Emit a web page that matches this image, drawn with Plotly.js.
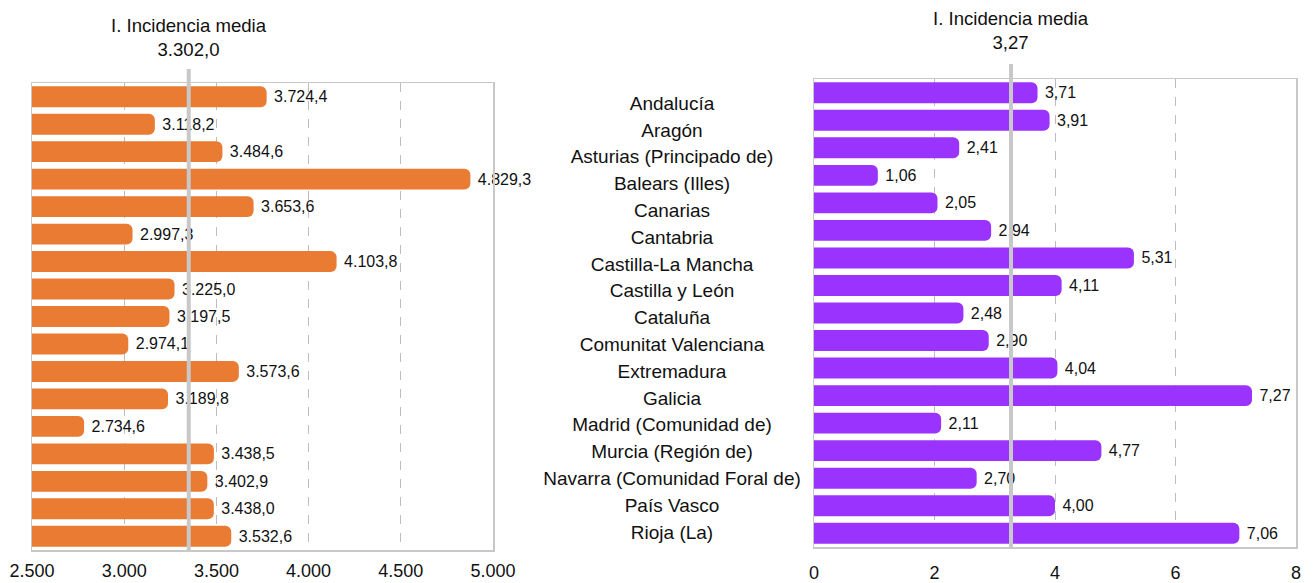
<!DOCTYPE html>
<html>
<head>
<meta charset="utf-8">
<script src="https://cdn.plot.ly/plotly-3.0.1.min.js"></script>
<style>html,body{margin:0;padding:0;background:#fff;}#chart{width:1314px;height:583px;}</style>
</head>
<body>
<div id="chart"></div>
<script>
const categories = [
  "Andalucía", "Aragón", "Asturias (Principado de)", "Balears (Illes)", "Canarias",
  "Cantabria", "Castilla-La Mancha", "Castilla y León", "Cataluña", "Comunitat Valenciana",
  "Extremadura", "Galicia", "Madrid (Comunidad de)", "Murcia (Región de)",
  "Navarra (Comunidad Foral de)", "País Vasco", "Rioja (La)"
];
const incidenceValues = [3724.4, 3118.2, 3484.6, 4829.3, 3653.6, 2997.3, 4103.8, 3225.0, 3197.5,
  2974.1, 3573.6, 3189.8, 2734.6, 3438.5, 3402.9, 3438.0, 3532.6];
const indexValues = [3.71, 3.91, 2.41, 1.06, 2.05, 2.94, 5.31, 4.11, 2.48, 2.90, 4.04, 7.27,
  2.11, 4.77, 2.70, 4.00, 7.06];
const meanIncidence = 3302.0;
const meanIndex = 3.27;
const meanLabel = "I. Incidencia media";
const leftTicks = [2500, 3000, 3500, 4000, 4500, 5000];
const rightTicks = [0, 2, 4, 6, 8];

const W = 1314, H = 583;
const px = v => v / W;
const py = v => (H - v) / H;
const catRange = [categories.length - 0.5, -0.5];

const fontFam = "Liberation Sans, Arial, sans-serif";
const NB = "\u00a0";

const traces = [
  {
    type: "bar", orientation: "h", x: incidenceValues, y: categories,
    xaxis: "x", yaxis: "y",
    marker: {color: "#E97B33", cornerradius: 6},
    texttemplate: NB + "%{x:,.1f}", textposition: "outside",
    textfont: {size: 16, color: "#111", family: fontFam},
    cliponaxis: false, hoverinfo: "skip"
  },
  {
    // empty carrier so the printed scale axis of the left panel is drawn
    type: "scatter", mode: "none", x: [leftTicks[0], leftTicks[leftTicks.length - 1]],
    y: [categories[0], categories[0]], xaxis: "x4", yaxis: "y",
    hoverinfo: "skip", showlegend: false
  },
  {
    type: "bar", orientation: "h", x: indexValues, y: categories,
    xaxis: "x2", yaxis: "y2",
    marker: {color: "#9B33FF", cornerradius: 6},
    texttemplate: NB + "%{x:.2f}", textposition: "outside",
    textfont: {size: 16, color: "#111", family: fontFam},
    cliponaxis: false, hoverinfo: "skip"
  },
  {
    type: "scatter", mode: "text", x: categories.map(() => 0), y: categories,
    xaxis: "x3", yaxis: "y3", text: categories, textposition: "middle center",
    textfont: {size: 19, color: "#111", family: fontFam},
    hoverinfo: "skip", cliponaxis: false
  }
];

const frame = {showline: true, mirror: true, linecolor: "#C8C8C8", linewidth: 1.5};

const layout = {
  width: W, height: H,
  margin: {l: 0, r: 0, t: 0, b: 0},
  paper_bgcolor: "#fff", plot_bgcolor: "#fff",
  separators: ",.",
  showlegend: false,
  bargap: 0.24,
  font: {family: fontFam, color: "#111"},
  // axis carrying the orange bars and the mean line
  xaxis: {
    domain: [px(32), px(493)], anchor: "y", range: [2452, 4952],
    showticklabels: false, ticks: "", showgrid: false, zeroline: false,
    showline: false
  },
  // axis showing the printed scale, grid and frame of the left panel
  xaxis4: Object.assign({
    overlaying: "x", anchor: "y", range: [2500, 5000], side: "bottom",
    tickvals: leftTicks, tickformat: ",d", ticks: "",
    showgrid: true, gridcolor: "#BDBDBD", griddash: "dash", gridwidth: 1,
    zeroline: false, tickfont: {size: 18, color: "#111"}, ticklabelstandoff: 4
  }, frame),
  yaxis: Object.assign({
    domain: [py(550), py(83)], anchor: "x", type: "category",
    range: catRange, autorange: false, showticklabels: false, ticks: "", showgrid: false
  }, frame),
  xaxis2: Object.assign({
    domain: [px(814), px(1296)], anchor: "y2", range: [0, 8],
    tickvals: rightTicks, ticks: "",
    showgrid: true, gridcolor: "#BDBDBD", griddash: "dash", gridwidth: 1,
    zeroline: false, tickfont: {size: 18, color: "#111"}, ticklabelstandoff: 9
  }, frame),
  yaxis2: Object.assign({
    domain: [py(547), py(79)], anchor: "x2", type: "category",
    range: catRange, autorange: false, showticklabels: false, ticks: "", showgrid: false
  }, frame),
  xaxis3: {domain: [px(572), px(772)], anchor: "y3", range: [-1, 1], visible: false},
  yaxis3: {domain: [py(547.4), py(91.6)], anchor: "x3", type: "category",
    range: catRange, autorange: false, visible: false},
  shapes: [
    {type: "line", xref: "x", yref: "paper", x0: meanIncidence, x1: meanIncidence,
      y0: py(550), y1: py(69), line: {color: "#C8C8C8", width: 4}, layer: "above"},
    {type: "line", xref: "x2", yref: "paper", x0: meanIndex, x1: meanIndex,
      y0: py(547), y1: py(64), line: {color: "#C8C8C8", width: 4}, layer: "above"}
  ],
  annotations: [
    {xref: "x", yref: "paper", x: meanIncidence, y: py(62), yanchor: "bottom", xanchor: "center",
      showarrow: false, align: "center",
      text: meanLabel + "<br>" + meanIncidence.toLocaleString("de-DE", {minimumFractionDigits: 1, maximumFractionDigits: 1}),
      font: {size: 18.6, color: "#111"}},
    {xref: "x2", yref: "paper", x: meanIndex, y: py(55), yanchor: "bottom", xanchor: "center",
      showarrow: false, align: "center",
      text: meanLabel + "<br>" + meanIndex.toLocaleString("de-DE", {minimumFractionDigits: 2, maximumFractionDigits: 2}),
      font: {size: 18.6, color: "#111"}}
  ]
};

Plotly.newPlot("chart", traces, layout, {displayModeBar: false, staticPlot: true});
</script>
</body>
</html>
